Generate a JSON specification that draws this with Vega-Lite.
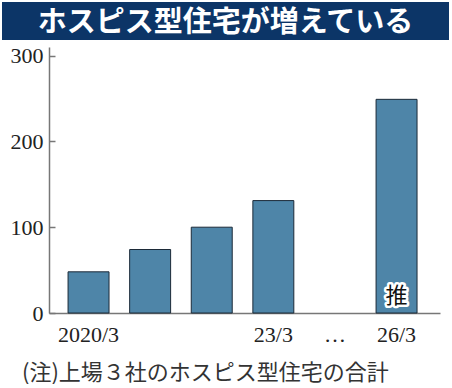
{
  "$schema": "https://vega.github.io/schema/vega-lite/v6.json",
  "padding": {"left": 2, "top": 2, "right": 3, "bottom": 0},
  "background": "white",
  "config": {"view": {"stroke": null}},
  "columns": 1,
  "align": "none",
  "spacing": 4,
  "concat": [
    {
      "width": 447,
      "height": 38,
      "view": {"fill": "#0c3567", "stroke": null},
      "data": {"values": [{"t": "ホスピス型住宅が増えている"}]},
      "mark": {"type": "text", "font": "Noto Sans CJK JP", "fontWeight": "bold", "fontSize": 29, "color": "white", "align": "center", "baseline": "middle", "dy": 2},
      "encoding": {"text": {"field": "t"}}
    },
    {
      "width": 438,
      "height": 266,
      "title": {"text": "(注)上場３社のホスピス型住宅の合計", "orient": "bottom", "anchor": "start", "frame": "bounds", "dx": 20, "offset": 18, "font": "Noto Sans CJK JP", "fontSize": 22, "fontWeight": "normal", "color": "#333333"},
      "data": {"values": [
        {"year": "2020/3", "v": 48},
        {"year": "21/3", "v": 74},
        {"year": "22/3", "v": 100},
        {"year": "23/3", "v": 131},
        {"year": "26/3", "v": 249, "note": "推"}
      ]},
      "encoding": {
        "x": {"field": "year", "type": "nominal", "sort": null,
          "scale": {"domain": ["2020/3", "21/3", "22/3", "23/3", "…", "26/3"], "paddingInner": 0.335, "paddingOuter": 0.7225, "align": 0.742},
          "axis": {"title": null, "ticks": false, "labelAngle": 0, "labelExpr": "datum.value == '21/3' || datum.value == '22/3' ? '' : datum.value", "domainColor": "#777777", "domainWidth": 1.5, "domainDash": [0, 47, 391, 1000], "labelPadding": 11, "labelFont": "Liberation Sans Narrow", "labelFontSize": 22, "labelColor": "#222222"}}
      },
      "layer": [
        {
          "mark": {"type": "bar", "fill": "#4e85a8", "stroke": "#1c2a38", "strokeWidth": 1},
          "encoding": {
            "y": {"field": "v", "type": "quantitative", "scale": {"domain": [0, 310], "nice": false},
              "axis": {"title": null, "values": [0, 100, 200, 300], "grid": false, "offset": -47, "domainColor": "#777777", "domainWidth": 1.5, "tickColor": "#777777", "tickWidth": 1.5, "tickSize": -6, "labelPadding": 12, "minExtent": 0, "labelFont": "Liberation Sans Narrow", "labelFontSize": 22, "labelColor": "#222222"}}
          }
        },
        {
          "transform": [{"filter": "datum.note"}],
          "mark": {"type": "text", "font": "Noto Sans CJK JP", "fontSize": 22, "stroke": "white", "strokeWidth": 5, "strokeJoin": "round", "fill": "white", "baseline": "middle", "dy": -17},
          "encoding": {"y": {"datum": 0}, "text": {"field": "note"}}
        },
        {
          "transform": [{"filter": "datum.note"}],
          "mark": {"type": "text", "font": "Noto Sans CJK JP", "fontSize": 22, "fill": "#111111", "baseline": "middle", "dy": -17},
          "encoding": {"y": {"datum": 0}, "text": {"field": "note"}}
        }
      ]
    }
  ]
}
